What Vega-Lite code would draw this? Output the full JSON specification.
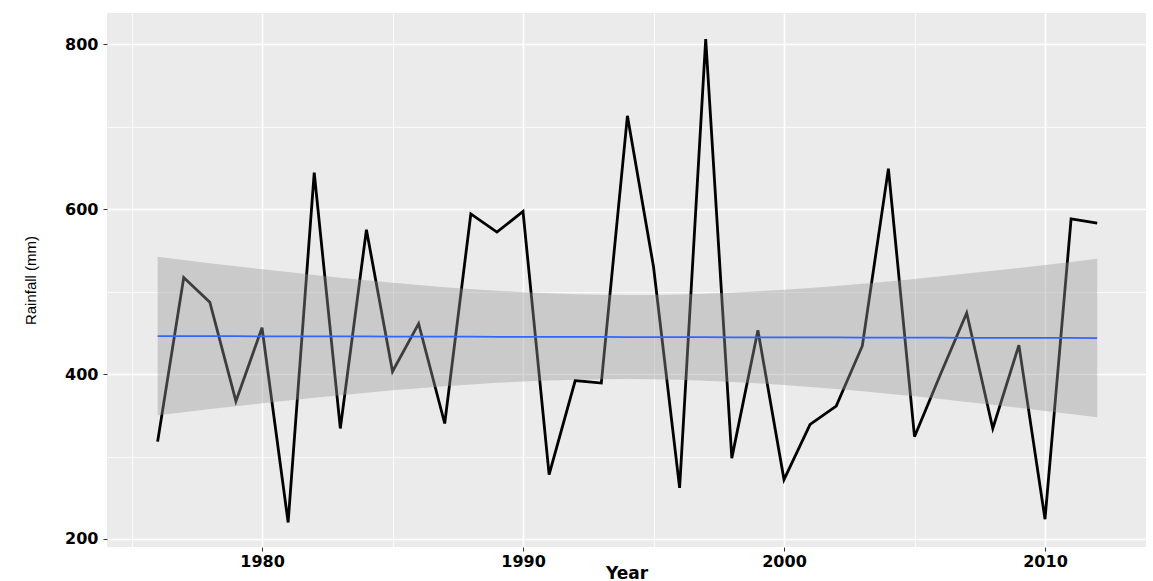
{
  "$schema": "https://vega.github.io/schema/vega-lite/v6.json",
  "width": 1039,
  "height": 534,
  "autosize": "none",
  "padding": {"left": 107, "top": 13, "right": 7, "bottom": 34},
  "background": "white",
  "config": {
    "view": {"fill": "#EBEBEB", "stroke": null},
    "axis": {
      "domain": false,
      "gridColor": "white",
      "labelFont": "DejaVu Sans",
      "labelFontWeight": "bold",
      "labelFontSize": 16,
      "labelColor": "black",
      "tickColor": "#333333",
      "tickSize": 4,
      "tickWidth": 1,
      "zindex": 0
    }
  },
  "data": {
    "values": [
      {"year": 1976, "rain": 318, "fit": 446.0, "lo": 350.0, "hi": 542.0},
      {"year": 1977, "rain": 517, "fit": 445.9, "lo": 353.7, "hi": 538.1},
      {"year": 1978, "rain": 487, "fit": 445.9, "lo": 357.5, "hi": 534.3},
      {"year": 1979, "rain": 367, "fit": 445.8, "lo": 361.0, "hi": 530.6},
      {"year": 1980, "rain": 456, "fit": 445.7, "lo": 364.5, "hi": 526.9},
      {"year": 1981, "rain": 220, "fit": 445.7, "lo": 367.9, "hi": 523.5},
      {"year": 1982, "rain": 644, "fit": 445.6, "lo": 371.2, "hi": 520.0},
      {"year": 1983, "rain": 334, "fit": 445.5, "lo": 374.3, "hi": 516.7},
      {"year": 1984, "rain": 575, "fit": 445.5, "lo": 377.4, "hi": 513.6},
      {"year": 1985, "rain": 403, "fit": 445.4, "lo": 380.2, "hi": 510.6},
      {"year": 1986, "rain": 461, "fit": 445.3, "lo": 382.8, "hi": 507.8},
      {"year": 1987, "rain": 340, "fit": 445.3, "lo": 385.3, "hi": 505.3},
      {"year": 1988, "rain": 594, "fit": 445.2, "lo": 387.4, "hi": 503.0},
      {"year": 1989, "rain": 572, "fit": 445.1, "lo": 389.3, "hi": 500.9},
      {"year": 1990, "rain": 597, "fit": 445.1, "lo": 391.0, "hi": 499.2},
      {"year": 1991, "rain": 278, "fit": 445.0, "lo": 392.2, "hi": 497.8},
      {"year": 1992, "rain": 392, "fit": 444.9, "lo": 393.1, "hi": 496.7},
      {"year": 1993, "rain": 389, "fit": 444.9, "lo": 393.7, "hi": 496.1},
      {"year": 1994, "rain": 713, "fit": 444.8, "lo": 393.8, "hi": 495.8},
      {"year": 1995, "rain": 530, "fit": 444.7, "lo": 393.5, "hi": 495.9},
      {"year": 1996, "rain": 262, "fit": 444.7, "lo": 392.9, "hi": 496.5},
      {"year": 1997, "rain": 806, "fit": 444.6, "lo": 391.8, "hi": 497.4},
      {"year": 1998, "rain": 298, "fit": 444.5, "lo": 390.4, "hi": 498.6},
      {"year": 1999, "rain": 453, "fit": 444.5, "lo": 388.7, "hi": 500.3},
      {"year": 2000, "rain": 272, "fit": 444.4, "lo": 386.6, "hi": 502.2},
      {"year": 2001, "rain": 339, "fit": 444.3, "lo": 384.3, "hi": 504.3},
      {"year": 2002, "rain": 361, "fit": 444.3, "lo": 381.8, "hi": 506.8},
      {"year": 2003, "rain": 434, "fit": 444.2, "lo": 379.0, "hi": 509.4},
      {"year": 2004, "rain": 649, "fit": 444.1, "lo": 376.0, "hi": 512.2},
      {"year": 2005, "rain": 324, "fit": 444.1, "lo": 372.9, "hi": 515.3},
      {"year": 2006, "rain": 400, "fit": 444.0, "lo": 369.6, "hi": 518.4},
      {"year": 2007, "rain": 474, "fit": 443.9, "lo": 366.1, "hi": 521.7},
      {"year": 2008, "rain": 334, "fit": 443.9, "lo": 362.7, "hi": 525.1},
      {"year": 2009, "rain": 435, "fit": 443.8, "lo": 359.0, "hi": 528.6},
      {"year": 2010, "rain": 224, "fit": 443.7, "lo": 355.3, "hi": 532.1},
      {"year": 2011, "rain": 588, "fit": 443.7, "lo": 351.5, "hi": 535.9},
      {"year": 2012, "rain": 583, "fit": 443.6, "lo": 347.6, "hi": 539.6}
    ]
  },
  "encoding": {
    "x": {
      "field": "year",
      "type": "quantitative",
      "scale": {"domain": [1974.06, 2013.87], "nice": false, "zero": false},
      "axis": {
        "title": "Year",
        "titleFont": "DejaVu Sans",
        "titleFontWeight": "bold",
        "titleFontSize": 17,
        "titleColor": "black",
        "titleBaseline": "alphabetic",
        "titleY": 31,
        "values": [1975, 1980, 1985, 1990, 1995, 2000, 2005, 2010],
        "labelExpr": "datum.value % 10 === 0 ? datum.label : ''",
        "format": "d",
        "labelPadding": 2,
        "labelFlush": false,
        "labelOverlap": false,
        "gridWidth": {"condition": {"test": "datum.value % 10 === 0", "value": 1.6}, "value": 0.8},
        "tickOpacity": {"condition": {"test": "datum.value % 10 === 0", "value": 1}, "value": 0}
      }
    }
  },
  "layer": [
    {
      "mark": {"type": "line", "stroke": "black", "strokeWidth": 2.8},
      "encoding": {
        "y": {
          "field": "rain",
          "type": "quantitative",
          "scale": {"domain": [190.3, 837.6], "nice": false, "zero": false},
          "axis": {
            "title": "Rainfall (mm)",
            "titleFont": "Liberation Sans",
            "titleFontWeight": "normal",
            "titleFontSize": 15,
            "titleColor": "black",
            "titleBaseline": "alphabetic",
            "titleX": -72,
            "values": [200, 300, 400, 500, 600, 700, 800],
            "labelExpr": "datum.value % 200 === 0 ? datum.label : ''",
            "labelPadding": 5,
            "labelFlush": false,
            "labelOverlap": false,
            "gridWidth": {"condition": {"test": "datum.value % 200 === 0", "value": 1.6}, "value": 0.8},
            "tickOpacity": {"condition": {"test": "datum.value % 200 === 0", "value": 1}, "value": 0}
          }
        }
      }
    },
    {
      "mark": {"type": "area", "fill": "#999999", "opacity": 0.4},
      "encoding": {
        "y": {"field": "lo", "type": "quantitative"},
        "y2": {"field": "hi"}
      }
    },
    {
      "mark": {"type": "line", "stroke": "#3366FF", "strokeWidth": 1.8},
      "encoding": {
        "y": {"field": "fit", "type": "quantitative"}
      }
    }
  ]
}
